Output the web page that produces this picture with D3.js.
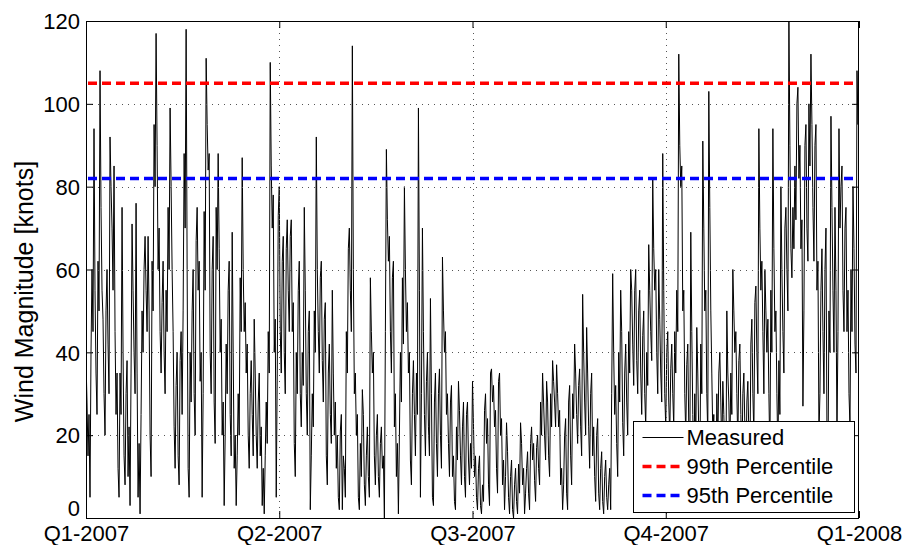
<!DOCTYPE html>
<html>
<head>
<meta charset="utf-8">
<script src="https://cdn.jsdelivr.net/npm/d3@7"></script>
<style>
  html, body { margin: 0; padding: 0; background: #fff; }
  svg { display: block; font-family: "Liberation Sans", Arial, sans-serif; }
</style>
</head>
<body>
<svg id="chart" width="907" height="545"></svg>
<script>
// ---- Data ----
const quarterLabels = ["Q1-2007", "Q2-2007", "Q3-2007", "Q4-2007", "Q1-2008"];
const yTicks = [0, 20, 40, 60, 80, 100, 120];
const percentile99 = 105;
const percentile95 = 82;
const seriesNames = ["Measured", "99th Percentile", "95th Percentile"];
// Wind magnitude samples, evenly spaced through 2007 (knots)
const measured = [
  // Q1 (first half)
  38, 28,15, 25,5, 40,60, 45,94, 55,35, 25,62, 50,108, 75,55, 48,30, 20,50, 60,42, 30,92, 80,70, 55,85, 45,25,
  35,12, 5,35, 25,75, 40,15, 8,30, 38,10, 22,3, 35,71, 55,40, 30,76, 35,5, 18,1, 25,50, 40,60, 68,55, 45,68,
  50,20, 10,62, 50,95, 80,117, 90,60, 70,45, 35,52, 62,40, 30,55, 45,75, 60,99, 80,60, 45,22, 12,32, 40,15,
  8,38, 45,25, 50,88,
  // Q1 (second half)
  70,118, 60,12, 5,40, 28,50, 60,30, 20,67, 75,55, 62,33, 40,5, 30,74, 55,111, 95,84, 88,40, 30,60, 68,28,
  18,75, 60,88, 65,40, 48,20, 28,3, 20,42, 30,55, 62,25, 15,69, 40,12, 20,3, 15,30, 20,58, 45,87, 60,45,
  52,35, 42,20, 12,30, 38,25, 15,48, 35,20, 12,28, 35,15, 22,3, 12,1, 15,28, 18,45, 35,110, 85,70, 78,40,
  48,5, 35,73, 80,45, 35,62, 68,40,
  // Q2 (first half)
  30,65, 72,55, 45,68, 72,45, 52,18, 10,40, 30,55, 62,30, 22,40, 32,75, 55,30, 20,45, 50,2, 15,30, 22,50,
  40,92, 60,45, 35,58, 62,38, 28,48, 52,15, 8,35, 42,25, 18,55, 35,20, 28,12, 20,5, 2,21, 25,2, 15,12,
  5,45, 35,65, 70,55, 45,114, 60,30, 35,20, 25,5, 2,18, 10,31, 25,8, 3,15, 22,10, 5,58, 45,35, 40,15,
  8,20, 25,10, 5,18, 22,12, 15,0,
  // Q2 (second half)
  45,89, 72,62, 68,45, 35,58, 62,22, 30,10, 18,1, 20,40, 28,58, 42,80, 60,45, 52,35, 40,14, 8,30, 38,25,
  15,35, 25,99, 55,5, 30,70, 45,25, 15,33, 40,22, 15,53, 30,5, 3,28, 35,18, 10,30, 36,20, 12,63, 50,40,
  45,25, 30,18, 10,28, 32,10, 15,4, 2,22, 14,33, 26,15, 8,22, 28,10, 5,25, 28,14, 8,18, 12,33, 22,10,
  15,5, 2,12, 15,3, 1,8, 4,26,
  // Q3
  30,18, 24,8, 3,35, 36,28, 32,22, 26,12, 6,33, 35,20, 24,8, 14,2, 10,23, 16,5, 1,10, 14,2, 0,8,
  12,4, 1,13, 6,23, 18,8, 12,1, 6,12, 16,6, 2,18, 22,14, 18,9, 4,17, 20,12, 8,28, 20,35, 28,20,
  14,33, 28,15, 10,30, 22,38, 33,28, 22,37, 30,22, 26,8, 12,2, 8,20, 24,6, 2,28, 32,15, 8,30, 24,42,
  35,25, 18,32, 36,22, 15,54, 40,28,
  20,46, 35,22, 12,30, 35,15, 22,10, 4,20, 24,6, 2,12, 16,4, 1,10, 14,5, 2,8, 12,2, 30,59, 40,25,
  32,18, 10,40, 28,55, 45,23, 15,35, 42,28, 20,45, 35,60, 55,42, 32,55, 60,38, 30,50, 55,35, 25,44, 50,30,
  // Q4
  22,40, 32,66, 55,45, 38,82, 65,55, 60,40, 30,60, 48,35, 28,88, 55,30, 22,40, 45,28, 20,36, 42,30, 22,45,
  35,55, 45,112, 90,80, 85,50, 55,30,
  20,37, 42,22, 10,69, 45,25, 12,30, 18,46, 35,20, 8,42, 30,91, 70,50, 55,30, 20,103, 75,50, 35,20, 25,8,
  2,30, 18,35, 40,28, 15,33, 25,15, 5,50, 35,28, 15,35, 25,60, 50,40, 45,30, 18,38, 42,25, 12,30, 35,22,
  8,28, 33,20, 10,42, 48,30, 20,52, 56,40, 30,94, 70,55, 62,45, 30,60, 50,40, 48,30, 15,55, 40,94, 65,45,
  50,30, 15,38, 25,80, 60,45, 35,70,
  75,60, 50,120, 90,65, 58,75, 65,85, 72,100, 104,82, 90,65, 72,27, 50,90, 95,70, 62,100, 85,112, 95,75,
  62,90, 95,55, 62,20, 30,55, 65,45, 30,60, 70,20, 12,50, 40,97, 75,55, 40,75, 55,20, 45,94, 70,80,
  85,55, 45,70, 75,45, 55,30, 22,60, 45,80, 65,42, 35,108, 95,120
];

// ---- Layout ----
const svg = d3.select("#chart");
const M = { left: 86, right: 859, top: 21, bottom: 518 };

const x = d3.scaleLinear().domain([0, quarterLabels.length - 1]).range([M.left, M.right]);
const y = d3.scaleLinear().domain([0, 120]).range([M.bottom, M.top]);

const pts = measured.map((v, i) => ({ q: i * (quarterLabels.length - 1) / (measured.length - 1), v }));

svg.append("defs").append("clipPath").attr("id", "plotclip")
  .append("rect").attr("x", M.left).attr("y", M.top).attr("width", M.right - M.left).attr("height", M.bottom - M.top);

// Data line
svg.append("path")
  .datum(pts)
  .attr("clip-path", "url(#plotclip)")
  .attr("fill", "none")
  .attr("stroke", "#000")
  .attr("stroke-width", 1)
  .attr("stroke-linejoin", "miter")
  .attr("d", d3.line().x(d => x(d.q)).y(d => y(d.v)));

// Grid (dotted)
const grid = svg.append("g").attr("stroke", "#555").attr("stroke-width", 1).attr("stroke-dasharray", "1,5");
grid.selectAll("line.h").data(yTicks.filter(t => t > 0 && t < 120)).enter().append("line")
  .attr("x1", M.left).attr("x2", M.right).attr("y1", d => Math.round(y(d)) + 0.5).attr("y2", d => Math.round(y(d)) + 0.5);
grid.selectAll("line.v").data(d3.range(1, quarterLabels.length - 1)).enter().append("line")
  .attr("y1", M.top).attr("y2", M.bottom).attr("x1", d => Math.round(x(d)) + 0.5).attr("x2", d => Math.round(x(d)) + 0.5);

// Percentile lines
svg.append("line").attr("x1", M.left + 2).attr("x2", M.right - 2)
  .attr("y1", y(percentile99)).attr("y2", y(percentile99))
  .attr("stroke", "#ff0000").attr("stroke-width", 3.5).attr("stroke-dasharray", "9,5");
svg.append("line").attr("x1", M.left + 2).attr("x2", M.right - 2)
  .attr("y1", y(percentile95)).attr("y2", y(percentile95))
  .attr("stroke", "#0000ff").attr("stroke-width", 3.5).attr("stroke-dasharray", "9,5");

// Axes
const yAxisL = d3.axisLeft(y).tickValues(yTicks).tickSizeInner(-7).tickSizeOuter(0).tickPadding(6);
const yAxisR = d3.axisRight(y).tickValues(yTicks).tickSizeInner(-7).tickSizeOuter(0).tickFormat("");
const xAxisB = d3.axisBottom(x).tickValues(d3.range(quarterLabels.length)).tickSizeInner(-7).tickSizeOuter(0)
  .tickPadding(7).tickFormat(i => quarterLabels[i]);
const xAxisT = d3.axisTop(x).tickValues(d3.range(quarterLabels.length)).tickSizeInner(-7).tickSizeOuter(0).tickFormat("");

function styleAxis(g) {
  g.select(".domain").remove();
  g.selectAll("line").attr("stroke", "#000");
  g.selectAll("text").attr("fill", "#000").style("font-size", "22px");
}
svg.append("g").attr("transform", `translate(${M.left},0)`).call(yAxisL).call(styleAxis)
  .selectAll("text").attr("dy", d => d === 0 ? "-2.5px" : "0.35em");
svg.append("g").attr("transform", `translate(${M.right},0)`).call(yAxisR).call(styleAxis);
svg.append("g").attr("transform", `translate(0,${M.bottom})`).call(xAxisB).call(styleAxis)
  .selectAll("text").attr("dy", "0.71em");
svg.append("g").attr("transform", `translate(0,${M.top})`).call(xAxisT).call(styleAxis);

// Frame
svg.append("rect").attr("x", M.left + 0.5).attr("y", M.top + 0.5).attr("width", M.right - M.left - 1).attr("height", M.bottom - M.top)
  .attr("fill", "none").attr("stroke", "#000").attr("stroke-width", 1);

// Y label
svg.append("text")
  .attr("transform", `translate(33,${(M.top + M.bottom) / 2 + 22}) rotate(-90)`)
  .attr("text-anchor", "middle")
  .style("font-size", "25px")
  .attr("fill", "#000")
  .text("Wind Magnitude [knots]");

// Legend
const lg = svg.append("g").attr("transform", "translate(633.5,421.5)");
lg.append("rect").attr("width", 221).attr("height", 91).attr("fill", "#fff").attr("stroke", "#000").attr("stroke-width", 1);
const legendItems = [
  { name: seriesNames[0], color: "#000", width: 1, dash: null },
  { name: seriesNames[1], color: "#ff0000", width: 3.5, dash: "9,5" },
  { name: seriesNames[2], color: "#0000ff", width: 3.5, dash: "9,5" }
];
legendItems.forEach((it, i) => {
  const cy = 16 + i * 29;
  lg.append("line").attr("x1", 9).attr("x2", 50).attr("y1", cy).attr("y2", cy)
    .attr("stroke", it.color).attr("stroke-width", it.width)
    .attr("stroke-dasharray", it.dash);
  lg.append("text").attr("x", 53).attr("y", cy).attr("dy", "0.36em")
    .style("font-size", "22px").attr("fill", "#000").text(it.name);
});
</script>
</body>
</html>
